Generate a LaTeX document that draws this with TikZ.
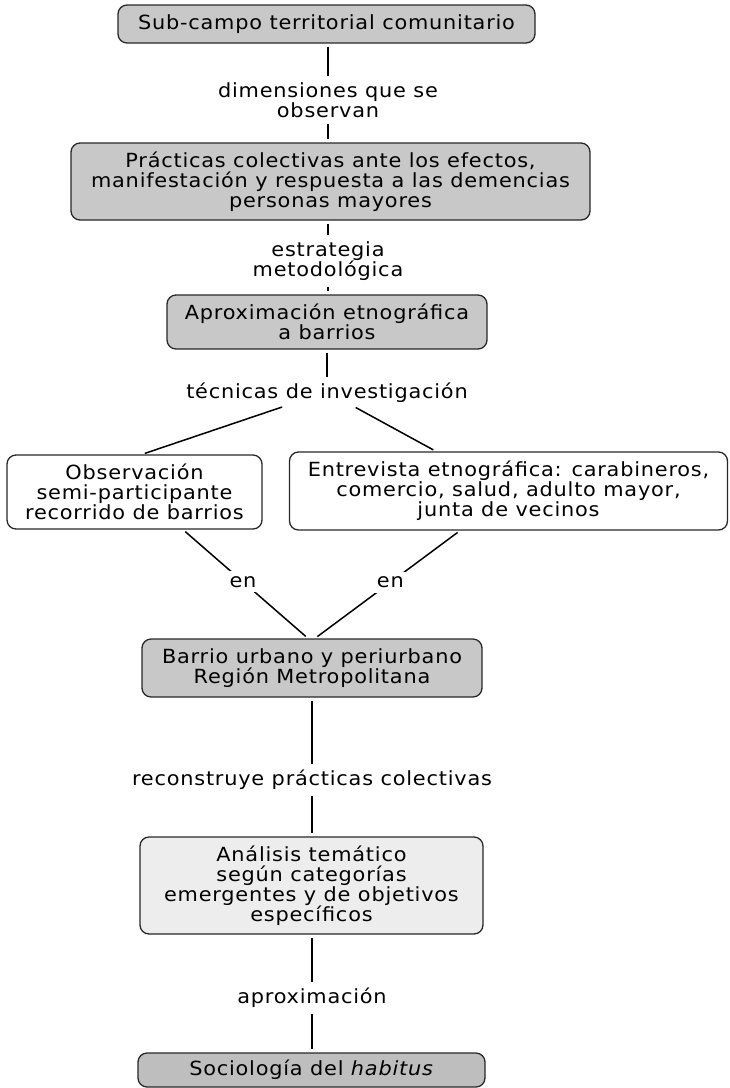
\documentclass[tikz,border=0pt]{standalone}
\usepackage{fontspec}
\setmainfont{DejaVu Sans}[FakeStretch=1.07,LetterSpace=4]
\newcommand\diagfs{\fontsize{19.5}{20}\selectfont}
\definecolor{boxgray}{RGB}{200,200,200}
\definecolor{boxdark}{RGB}{190,190,190}
\definecolor{boxlight}{RGB}{237,237,237}
\definecolor{edge}{RGB}{40,40,40}
\begin{document}
\begin{tikzpicture}[x=1pt,y=-1pt,
  box/.style={draw=edge, line width=1.3pt, rounded corners=9pt, align=center, inner sep=0pt, font=\diagfs},
  lbl/.style={align=center, inner sep=3pt, font=\diagfs},
  enlbl/.style={align=center, inner sep=5pt, font=\diagfs, fill=white},
  conn/.style={draw=black, line width=1.5pt, shorten <=3pt, shorten >=3pt}]
\useasboundingbox[fill=white] (0,0) rectangle (729,1088);

% boxes
\node[box, fill=boxgray, minimum width=417pt, minimum height=38pt] (b1) at (326.5,24) {Sub-campo territorial comunitario};
\node[box, fill=boxgray, minimum width=519pt, minimum height=77pt] (b2) at (330.5,181.5) {Prácticas colectivas ante los efectos,\\manifestación y respuesta a las demencias\\personas mayores};
\node[box, fill=boxgray, minimum width=320pt, minimum height=54pt] (b3) at (327,322) {Aproximación etnográfica\\a barrios};
\node[box, fill=white, minimum width=255pt, minimum height=74pt] (b4) at (134.5,492) {Observación\\semi-participante\\recorrido de barrios};
\node[box, fill=white, minimum width=438pt, minimum height=78pt] (b5) at (508.5,491) {Entrevista etnográfica: carabineros,\\comercio, salud, adulto mayor,\\junta de vecinos};
\node[box, fill=boxgray, minimum width=340pt, minimum height=58pt] (b6) at (312,668) {Barrio urbano y periurbano\\Región Metropolitana};
\node[box, fill=boxlight, minimum width=343pt, minimum height=97pt] (b7) at (311.5,885.5) {Análisis temático\\según categorías\\emergentes y de objetivos\\específicos};
\node[box, fill=boxdark, minimum width=347pt, minimum height=34pt] (b8) at (311.5,1070) {Sociología del \textit{habitus}};

% labels
\node[lbl] (l1) at (328,100) {dimensiones que se\\observan};
\node[lbl] (l2) at (328,261) {estrategia\\metodológica};
\node[lbl] (l3) at (327,393) {técnicas de investigación};
\node[lbl] (l6) at (312,780) {reconstruye prácticas colectivas};
\node[lbl] (l7) at (312,998) {aproximación};

% connectors
\draw[conn] (l1 |- b1.south) -- (l1.north);
\draw[conn] (l1.south) -- (l1 |- b2.north);
\draw[conn] (l2 |- b2.south) -- (l2.north);
\draw[conn] (l2.south) -- (l2 |- b3.north);
\draw[conn] (l3 |- b3.south) -- (l3.north);
\draw[conn] ([xshift=-42pt]l3.south) -- ([xshift=7.5pt]b4.north);
\draw[conn] ([xshift=26pt]l3.south) -- ([xshift=-72.5pt]b5.north);
\draw[conn] ([xshift=48.5pt]b4.south) -- node[enlbl, pos=0.48] (e1) {en} ([xshift=-4pt]b6.north);
\draw[conn] ([xshift=-48.5pt]b5.south) -- node[enlbl, pos=0.48] (e2) {en} ([xshift=3pt]b6.north);
\draw[conn] (l6 |- b6.south) -- (l6.north);
\draw[conn] (l6.south) -- (l6 |- b7.north);
\draw[conn] (l7 |- b7.south) -- (l7.north);
\draw[conn] (l7.south) -- (l7 |- b8.north);
\end{tikzpicture}
\end{document}
